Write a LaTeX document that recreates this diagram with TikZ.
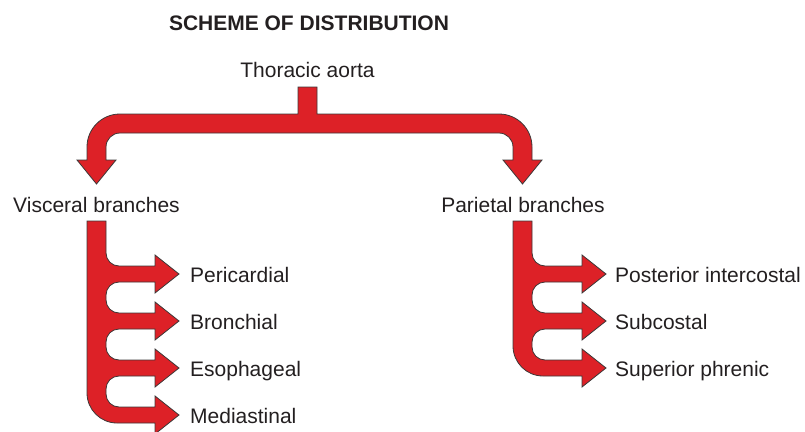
\documentclass[tikz,border=0pt]{standalone}
\usepackage{fontspec}
\setmainfont{Liberation Sans}
\definecolor{aortared}{RGB}{221,33,39}
\definecolor{inkgray}{RGB}{35,31,32}
\definecolor{rimgray}{RGB}{60,56,56}

\begin{document}
\begin{tikzpicture}[
        x=1pt, y=-1pt,
        every node/.style={inner sep=0pt, text=inkgray, font=\fontsize{21}{25}\selectfont},
        titlelab/.style={font=\fontsize{21}{25}\selectfont\bfseries, anchor=base},
        mainlab/.style={anchor=base},
        leaflab/.style={anchor=base west},
        fat/.style={fill=aortared, draw=rimgray, line width=0.8pt, line join=miter},
    ]
    \useasboundingbox (0,0) rectangle (805,431);

    % thoracic aorta splits in two
    \draw[fat] (298,87) -- (317,87) -- (317,114) -- (499,114)
        arc[start angle=90, end angle=0, radius=33pt]
        -- (532,160) -- (542,160) -- (522.5,184) -- (503,160) -- (513,160) -- (513,147)
        arc[start angle=0, end angle=90, radius=14pt] -- (120,133)
        arc[start angle=90, end angle=180, radius=14pt]
        -- (106,160) -- (116,160) -- (96.5,184) -- (77,160) -- (87,160) -- (87,147)
        arc[start angle=180, end angle=90, radius=33pt] -- (298,114) -- cycle;

    % visceral trunk
    \draw[fat] (87,221) -- (106,221)
        \foreach \c in {274,321,368}{
            -- (106,\c-21) arc[start angle=180, end angle=270, radius=13pt]
            -- (155,\c-8) -- (155,\c-19) -- (179,\c) -- (155,\c+19) -- (155,\c+8) -- (119,\c+8)
            arc[start angle=90, end angle=180, radius=13pt]
        }
        -- (106,394) arc[start angle=180, end angle=270, radius=13pt]
        -- (155,407) -- (155,396) -- (179,415) -- (155,434) -- (155,423) -- (117,423)
        arc[start angle=270, end angle=180, radius=30pt] -- cycle;

    % parietal trunk
    \draw[fat] (513,221) -- (532,221)
        \foreach \c in {274,321}{
            -- (532,\c-21) arc[start angle=180, end angle=270, radius=13pt]
            -- (582,\c-8) -- (582,\c-19) -- (606,\c) -- (582,\c+19) -- (582,\c+8) -- (545,\c+8)
            arc[start angle=90, end angle=180, radius=13pt]
        }
        -- (532,347) arc[start angle=180, end angle=270, radius=13pt]
        -- (582,360) -- (582,349) -- (606,368) -- (582,387) -- (582,376) -- (543,376)
        arc[start angle=270, end angle=180, radius=30pt] -- cycle;

    \node[titlelab] (title) at (309,30) {SCHEME OF DISTRIBUTION};
    \node[mainlab] (aorta) at (307.5,77.5) {Thoracic aorta};
    \node[mainlab] (visceral) at (96.5,212) {Visceral branches};
    \node[mainlab] (parietal) at (523,212) {Parietal branches};

    \node[leaflab] (pericardial) at (190,282) {Pericardial};
    \node[leaflab] (bronchial) at (190,329) {Bronchial};
    \node[leaflab] (esophageal) at (190,376) {Esophageal};
    \node[leaflab] (mediastinal) at (190,423) {Mediastinal};

    \node[leaflab] (intercostal) at (615,282) {Posterior intercostal};
    \node[leaflab] (subcostal) at (615,329) {Subcostal};
    \node[leaflab] (phrenic) at (615,376) {Superior phrenic};
\end{tikzpicture}
\end{document}
